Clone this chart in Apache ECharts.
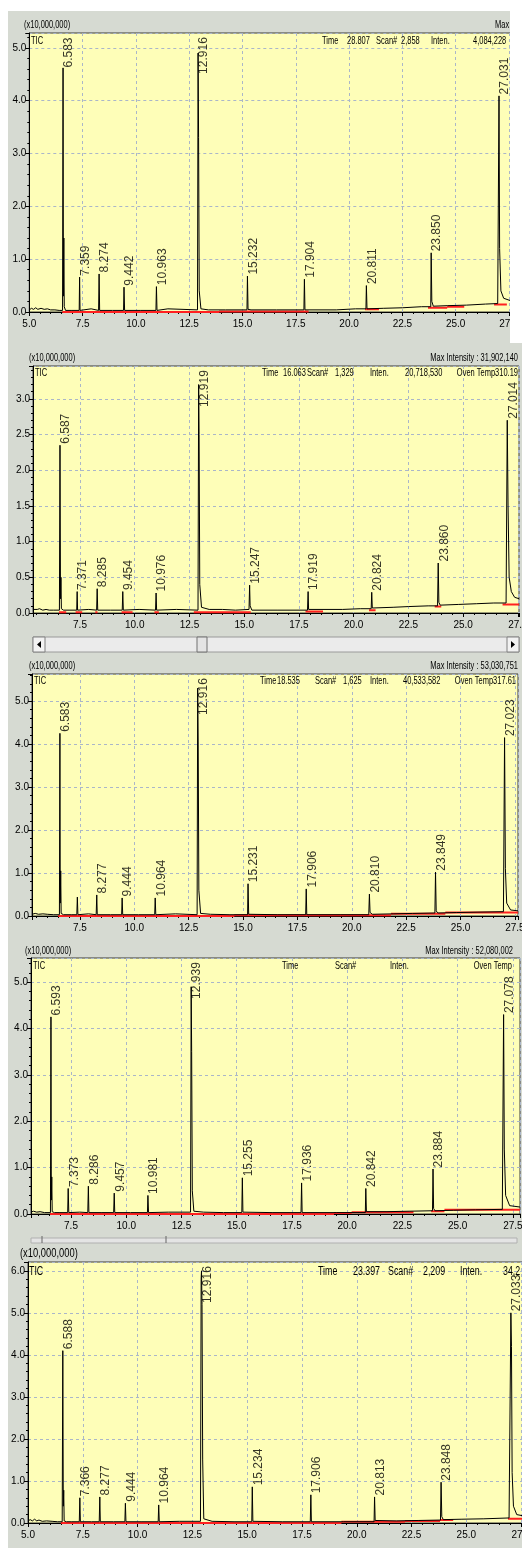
<!DOCTYPE html>
<html>
<head>
<meta charset="utf-8">
<title>TIC chromatograms</title>
<script src="https://cdn.jsdelivr.net/npm/echarts@6.0.0/dist/echarts.min.js"></script>
<style>
	html, body { margin: 0; padding: 0; background: #fff; }
	#bg { position: absolute; left: 8px; top: 11px; width: 514px; height: 1537px; background: #d6dad2; }
	#box { position: absolute; left: 0; top: 0; width: 522px; height: 1548px; }
</style>
</head>
<body>
<div id="bg"></div>
<div id="box"></div>
<script>
// ---------- data (time in min, intensity in x10,000,000) ----------
var p1Trace = [
	[5.00,0.04],[5.10,0.07],[5.20,0.05],[5.30,0.08],[5.40,0.05],[5.55,0.07],[5.70,0.05],[5.85,0.06],[6.00,0.04],[6.20,0.04],[6.40,0.03],[6.56,0.03],
	[6.583,4.62],[6.60,0.30],[6.62,1.40],[6.64,0.10],[6.70,0.03],
	[7.00,0.03],[7.34,0.03],[7.359,0.66],[7.38,0.03],
	[7.90,0.06],[7.95,0.03],[8.25,0.03],[8.274,0.72],[8.30,0.03],
	[8.90,0.03],[9.42,0.03],[9.442,0.47],[9.47,0.03],
	[10.20,0.03],[10.94,0.03],[10.963,0.48],[10.99,0.03],
	[11.50,0.06],[11.55,0.04],[12.89,0.04],[12.916,4.90],[12.94,3.30],[12.97,0.40],[13.05,0.06],[13.40,0.04],
	[14.20,0.04],[15.21,0.04],[15.232,0.68],[15.26,0.05],[15.40,0.04],
	[16.60,0.04],[17.88,0.04],[17.904,0.62],[17.93,0.04],
	[19.40,0.04],[20.30,0.06],[20.79,0.06],[20.811,0.50],[20.84,0.06],
	[21.60,0.07],[22.50,0.08],[23.40,0.10],[23.83,0.10],[23.850,1.12],[23.88,0.20],[23.95,0.11],
	[24.60,0.12],[25.50,0.13],[26.40,0.15],[26.97,0.16],[27.031,4.09],[27.06,1.20],[27.12,0.40],[27.25,0.26],[27.60,0.21],[28.50,0.20],[30.00,0.20]
];
var p1PeakTimes = [6.583, 7.359, 8.274, 9.442, 10.963, 12.916, 15.232, 17.904, 20.811, 23.850, 27.031];
var p1PeakHeights = [4.62, 0.66, 0.72, 0.47, 0.48, 4.90, 0.68, 0.62, 0.50, 1.12, 4.09];
var p1Red = [[6.55,13.9,0.0],[13.9,18.1,0.01],[20.75,21.4,0.05],[23.7,24.6,0.08],[24.6,25.4,0.10],[26.8,27.4,0.14]];

var p2Trace = [
	[5.36,0.05],[5.45,0.07],[5.55,0.05],[5.65,0.06],[5.80,0.04],[5.95,0.05],[6.10,0.04],[6.30,0.04],[6.56,0.04],
	[6.587,2.35],[6.61,0.20],[6.63,0.50],[6.65,0.06],[6.75,0.04],
	[7.00,0.04],[7.35,0.04],[7.371,0.30],[7.39,0.04],
	[7.90,0.05],[7.95,0.04],[8.26,0.04],[8.285,0.34],[8.31,0.04],
	[8.90,0.04],[9.43,0.04],[9.454,0.30],[9.48,0.04],
	[10.20,0.05],[10.95,0.04],[10.976,0.28],[11.00,0.04],
	[11.90,0.05],[12.89,0.04],[12.919,3.20],[12.94,2.50],[12.97,0.40],[13.05,0.08],[13.40,0.05],
	[14.00,0.05],[14.60,0.04],[15.22,0.05],[15.247,0.39],[15.27,0.10],[15.35,0.04],
	[16.50,0.04],[17.89,0.04],[17.919,0.30],[17.94,0.05],
	[19.50,0.05],[20.30,0.06],[20.80,0.06],[20.824,0.29],[20.85,0.07],
	[21.80,0.08],[22.50,0.09],[23.40,0.10],[23.83,0.10],[23.860,0.70],[23.89,0.15],[23.95,0.11],
	[24.80,0.12],[25.60,0.13],[26.40,0.14],[26.96,0.14],[27.014,2.70],[27.05,1.50],[27.10,0.50],[27.20,0.30],[27.35,0.22],[27.55,0.20]
];
var p2PeakTimes = [6.587, 7.371, 8.285, 9.454, 10.976, 12.919, 15.247, 17.919, 20.824, 23.860, 27.014];
var p2PeakHeights = [2.35, 0.30, 0.34, 0.30, 0.28, 3.20, 0.39, 0.30, 0.29, 0.70, 2.70];
var p2Red = [[6.54,6.87,0.01],[7.3,7.6,0.01],[8.2,8.3,0.01],[9.4,9.9,0.01],[10.9,11.1,0.01],[12.7,15.3,0.01],[17.8,18.6,0.02],[20.7,21.0,0.04],[23.7,24.0,0.09],[26.8,27.55,0.12]];

var p3Trace = [
	[5.30,0.04],[5.45,0.06],[5.60,0.04],[5.80,0.05],[6.00,0.04],[6.30,0.03],[6.56,0.03],
	[6.583,4.25],[6.60,0.30],[6.62,1.05],[6.64,0.06],[6.75,0.03],
	[7.10,0.03],[7.36,0.03],[7.385,0.44],[7.41,0.03],
	[7.90,0.05],[7.95,0.03],[8.25,0.03],[8.277,0.49],[8.30,0.03],
	[8.90,0.03],[9.42,0.03],[9.444,0.42],[9.47,0.03],
	[10.20,0.03],[10.94,0.03],[10.964,0.42],[10.99,0.03],
	[11.90,0.05],[12.89,0.03],[12.916,5.30],[12.94,4.00],[12.97,0.60],[13.05,0.06],[13.50,0.04],
	[14.40,0.03],[15.21,0.03],[15.231,0.75],[15.26,0.04],
	[16.60,0.03],[17.88,0.03],[17.906,0.63],[17.93,0.03],
	[19.50,0.03],[20.78,0.03],[20.810,0.51],[20.84,0.08],[20.95,0.04],
	[21.90,0.05],[22.80,0.06],[23.82,0.07],[23.849,1.02],[23.88,0.12],[23.95,0.07],
	[24.80,0.08],[25.80,0.09],[26.97,0.10],[27.023,4.15],[27.06,1.10],[27.12,0.30],[27.30,0.14],[27.64,0.12]
];
var p3PeakTimes = [6.583, 8.277, 9.444, 10.964, 12.916, 15.231, 17.906, 20.810, 23.849, 27.023];
var p3PeakHeights = [4.25, 0.49, 0.42, 0.42, 5.30, 0.75, 0.63, 0.51, 1.02, 4.15];
var p3Red = [[6.5,14.6,0.0],[14.6,21.8,0.02],[21.8,24.3,0.05],[24.3,27.64,0.08]];

var p4Trace = [
	[5.69,0.04],[5.80,0.06],[5.95,0.04],[6.10,0.05],[6.30,0.03],[6.57,0.03],
	[6.593,4.25],[6.61,0.30],[6.63,0.80],[6.65,0.05],[6.75,0.03],
	[7.00,0.03],[7.35,0.03],[7.373,0.55],[7.40,0.03],
	[7.90,0.04],[8.26,0.03],[8.286,0.60],[8.31,0.03],
	[8.90,0.03],[9.43,0.03],[9.457,0.45],[9.48,0.03],
	[10.20,0.03],[10.96,0.03],[10.981,0.40],[11.01,0.03],
	[11.90,0.04],[12.91,0.04],[12.939,4.90],[12.96,3.50],[12.99,0.50],[13.06,0.06],[13.50,0.04],
	[14.40,0.03],[15.23,0.03],[15.255,0.78],[15.28,0.04],
	[16.60,0.03],[17.91,0.03],[17.936,0.67],[17.96,0.03],
	[19.50,0.03],[20.82,0.03],[20.842,0.55],[20.87,0.05],
	[21.80,0.05],[22.80,0.06],[23.86,0.07],[23.884,0.97],[23.91,0.12],[23.97,0.07],
	[24.80,0.08],[25.80,0.09],[27.02,0.10],[27.078,4.30],[27.11,1.40],[27.17,0.40],[27.35,0.18],[27.82,0.15]
];
var p4PeakTimes = [6.593, 7.373, 8.286, 9.457, 10.981, 12.939, 15.255, 17.936, 20.842, 23.884, 27.078];
var p4PeakHeights = [4.25, 0.55, 0.60, 0.45, 0.40, 4.90, 0.78, 0.67, 0.55, 0.97, 4.30];
var p4Red = [[6.55,19.4,0.0],[19.4,20.2,0.02],[20.2,23.0,0.04],[23.8,24.4,0.06],[24.4,27.82,0.09]];

var p5Trace = [
	[5.00,0.05],[5.10,0.08],[5.20,0.05],[5.30,0.09],[5.40,0.05],[5.50,0.07],[5.65,0.04],[5.85,0.05],[6.10,0.04],[6.35,0.03],[6.56,0.03],
	[6.588,4.10],[6.61,0.40],[6.63,0.78],[6.65,0.05],[6.75,0.03],
	[7.00,0.03],[7.34,0.03],[7.366,0.60],[7.39,0.03],
	[7.90,0.03],[8.25,0.03],[8.277,0.62],[8.30,0.03],
	[8.90,0.03],[9.42,0.03],[9.444,0.47],[9.47,0.03],
	[10.20,0.03],[10.94,0.03],[10.964,0.43],[10.99,0.03],
	[11.90,0.04],[12.87,0.04],[12.90,5.80],[12.916,6.00],[12.94,5.20],[12.97,1.50],[13.02,0.10],[13.40,0.04],
	[14.40,0.03],[15.21,0.03],[15.234,0.86],[15.26,0.04],
	[16.60,0.03],[17.88,0.03],[17.906,0.67],[17.93,0.03],
	[19.40,0.03],[20.79,0.03],[20.813,0.62],[20.84,0.06],
	[21.80,0.05],[22.80,0.06],[23.82,0.07],[23.848,0.97],[23.88,0.15],[23.95,0.08],
	[24.80,0.09],[25.80,0.10],[26.95,0.12],[27.033,5.00],[27.06,4.20],[27.09,1.20],[27.15,0.40],[27.30,0.20],[27.60,0.17],[29.00,0.15]
];
var p5PeakTimes = [6.588, 7.366, 8.277, 9.444, 10.964, 12.916, 15.234, 17.906, 20.813, 23.848, 27.033];
var p5PeakHeights = [4.10, 0.60, 0.62, 0.47, 0.43, 6.00, 0.86, 0.67, 0.62, 0.97, 5.00];
var p5Red = [[6.5,19.3,0.0],[19.3,22.2,0.03],[22.2,23.8,0.05],[23.8,24.4,0.07],[26.9,29.0,0.10]];

// ---------- layout ----------
var FA = "'Liberation Sans',Arial,'DejaVu Sans',sans-serif";

var panels = [
	{ trace: p1Trace, times: p1PeakTimes, heights: p1PeakHeights, red: p1Red, left: 29.3, top: 33, width: 533, height: 279, xMin: 5, xMax: 30, yMax: 5.28, yStep: 1 },
	{ trace: p2Trace, times: p2PeakTimes, heights: p2PeakHeights, red: p2Red, left: 33, top: 366, width: 486, height: 247, xMin: 5.354, xMax: 27.55, yMax: 3.46, yStep: 0.5 },
	{ trace: p3Trace, times: p3PeakTimes, heights: p3PeakHeights, red: p3Red, left: 32, top: 674, width: 486, height: 242, xMin: 5.3, xMax: 27.64, yMax: 5.63, yStep: 1 },
	{ trace: p4Trace, times: p4PeakTimes, heights: p4PeakHeights, red: p4Red, left: 31, top: 958, width: 489, height: 256, xMin: 5.69, xMax: 27.82, yMax: 5.52, yStep: 1 },
	{ trace: p5Trace, times: p5PeakTimes, heights: p5PeakHeights, red: p5Red, left: 28, top: 1262, width: 526, height: 261, xMin: 5, xMax: 29, yMax: 6.21, yStep: 1 }
];

var grids = [], xAxes = [], yAxes = [], series = [];
var dash = { color: '#aab6c9', type: [3, 3], width: 1 };

panels.forEach(function (p, i) {
	grids.push({ left: p.left, top: p.top, width: p.width, height: p.height, show: true,
		containLabel: false, outerBoundsMode: 'none',
		backgroundColor: '#fefeb8', borderColor: '#3a3a3a', borderWidth: 1 });

	xAxes.push({
		type: 'value', gridIndex: i, min: p.xMin, max: p.xMax,
		minInterval: 2.5, maxInterval: 2.5, splitNumber: 10,
		axisLine: { show: true, onZero: false, lineStyle: { color: '#000', width: 1 } },
		axisTick: { show: true, length: 4, lineStyle: { color: '#000' } },
		minorTick: { show: true, splitNumber: 5, length: 2, lineStyle: { color: '#000' } },
		axisLabel: { color: '#000', fontSize: 10, fontFamily: FA, margin: 7,
			showMinLabel: p.xMin % 2.5 === 0, showMaxLabel: false,
			formatter: function (v) { return v.toFixed(1); } },
		splitLine: { show: true, lineStyle: dash }
	});

	yAxes.push({
		type: 'value', gridIndex: i, min: 0, max: p.yMax, interval: p.yStep,
		axisLine: { show: true, lineStyle: { color: '#000', width: 1 } },
		axisTick: { show: true, length: 4, lineStyle: { color: '#000' } },
		minorTick: { show: true, splitNumber: 5, length: 2, lineStyle: { color: '#000' } },
		axisLabel: { color: '#000', fontSize: 10, fontFamily: FA, margin: 3, showMaxLabel: false,
			formatter: function (v) { return v.toFixed(1); } },
		splitLine: { show: true, lineStyle: dash }
	});

	// red integration baselines
	var redData = [];
	p.red.forEach(function (s) {
		redData.push([s[0], s[2]], [s[1], s[2]], [s[1], '-']);
	});
	series.push({ type: 'line', xAxisIndex: i, yAxisIndex: i, data: redData, symbol: 'none',
		connectNulls: false, lineStyle: { color: '#ff2020', width: 2 }, z: 2, silent: true });

	// TIC trace
	series.push({ type: 'line', xAxisIndex: i, yAxisIndex: i, data: p.trace, symbol: 'none',
		lineStyle: { color: '#000', width: 1 }, z: 3, silent: true });

	// peak retention time labels, kept inside the frame
	var ppu = p.height / p.yMax;
	var lab = p.times.map(function (t, k) {
		var s = t.toFixed(3);
		var len = s.length * 6.4 + 4;
		return { name: s, value: [t, Math.min(p.heights[k], p.yMax - len / ppu)] };
	});
	series.push({ type: 'scatter', xAxisIndex: i, yAxisIndex: i, data: lab, symbolSize: 1,
		itemStyle: { color: 'rgba(0,0,0,0)' }, z: 4, silent: true,
		label: { show: true, formatter: '{b}', rotate: 90, position: 'top', distance: 1,
			align: 'left', verticalAlign: 'top', fontSize: 12, fontFamily: FA, color: '#000' } });
});

// ---------- texts and decorations ----------
var mctx = document.createElement('canvas').getContext('2d');
function textW(s, font) {
	mctx.font = font;
	return mctx.measureText(s).width;
}
// narrow header text: Arial squeezed horizontally
function txt(x, y, s, size, sx) {
	var k = sx || 0.68;
	return { type: 'text', x: x, y: y, z: 50, silent: true, scaleX: k,
		style: { text: s, font: (size || 11) + 'px ' + FA, fill: '#000', verticalAlign: 'middle' } };
}
// same, but x is the right end of the text
function txtR(x, y, s, size, sx) {
	var k = sx || 0.68;
	var w = textW(s, (size || 11) + 'px ' + FA) * k;
	return txt(x - w, y, s, size, k);
}
function box(x, y, w, h, fill, stroke, z) {
	return { type: 'rect', z: z || 40, silent: true, shape: { x: x, y: y, width: w, height: h },
		style: { fill: fill, stroke: stroke || null, lineWidth: 1 } };
}
function seg(x1, y1, x2, y2, c) {
	return { type: 'line', z: 45, silent: true, shape: { x1: x1, y1: y1, x2: x2, y2: y2 }, style: { stroke: c, lineWidth: 1 } };
}
function tri(pts) {
	return { type: 'polygon', z: 46, silent: true, shape: { points: pts }, style: { fill: '#000' } };
}

var graphics = [
	// panel 1
	txt(24, 25, '(x10,000,000)'), txt(495, 25, 'Max In'),
	txt(31, 41, 'TIC'), txt(322, 41, 'Time'), txt(347, 41, '28.807'), txt(376, 41, 'Scan#'),
	txt(401, 41, '2,858'), txt(431, 41, 'Inten.'), txt(473, 41, '4,084,228'),
	// panel 2
	txt(29, 358, '(x10,000,000)'), txtR(518, 358, 'Max Intensity : 31,902,140'),
	txt(35, 373, 'TIC'), txt(262, 373, 'Time'), txt(283, 373, '16.063'), txt(307, 373, 'Scan#'),
	txt(335, 373, '1,329'), txt(370, 373, 'Inten.'), txt(405, 373, '20,718,530'),
	txtR(518, 373, 'Oven Temp310.19'),
	// panel 2 scroll bar
	box(33, 637, 486, 15, '#ebebeb', '#9a9a9a'),
	box(33, 637, 12, 15, '#f2f2f2', '#808080'), tri([[41, 641], [41, 648], [37, 644.5]]),
	box(507, 637, 12, 15, '#f2f2f2', '#808080'), tri([[511, 641], [511, 648], [515, 644.5]]),
	box(197, 637, 10, 15, '#e4e4e4', '#707070'),
	// panel 3
	txt(29, 666, '(x10,000,000)'), txtR(518, 666, 'Max Intensity : 53,030,751'),
	txt(34, 681, 'TIC'), txt(260, 681, 'Time'), txt(277, 681, '18.535'), txt(315, 681, 'Scan#'),
	txt(343, 681, '1,625'), txt(370, 681, 'Inten.'), txt(403, 681, '40,533,582'),
	txtR(516, 681, 'Oven Temp317.61'),
	// panel 4
	txt(25, 951, '(x10,000,000)'), txtR(513, 951, 'Max Intensity : 52,080,002'),
	txt(33, 966, 'TIC'), txt(282, 966, 'Time'), txt(335, 966, 'Scan#'), txt(390, 966, 'Inten.'),
	txtR(512, 966, 'Oven Temp'),
	box(31, 1238, 486, 5, '#e4e4e4', '#b0b0b0'), seg(42, 1236, 42, 1243, '#666'), seg(166, 1236, 166, 1243, '#666'),
	// panel 5
	txt(20, 1253, '(x10,000,000)', 13, 0.72),
	txt(29, 1271, 'TIC', 13), txt(318, 1271, 'Time', 13), txt(353, 1271, '23.397', 13), txt(388, 1271, 'Scan#', 13),
	txt(423, 1271, '2,209', 13), txt(460, 1271, 'Inten.', 13), txt(503, 1271, '34,2', 13),
	// page edges that crop panels 1 and 5
	box(510, 0, 12, 343, '#fff', null, 100),
	box(0, 0, 8, 1548, '#fff', null, 100)
];

var myChart = echarts.init(document.getElementById('box'), null, { renderer: 'canvas' });
myChart.setOption({
	animation: false,
	grid: grids,
	xAxis: xAxes,
	yAxis: yAxes,
	series: series,
	graphic: { elements: graphics }
});
</script>
</body>
</html>
